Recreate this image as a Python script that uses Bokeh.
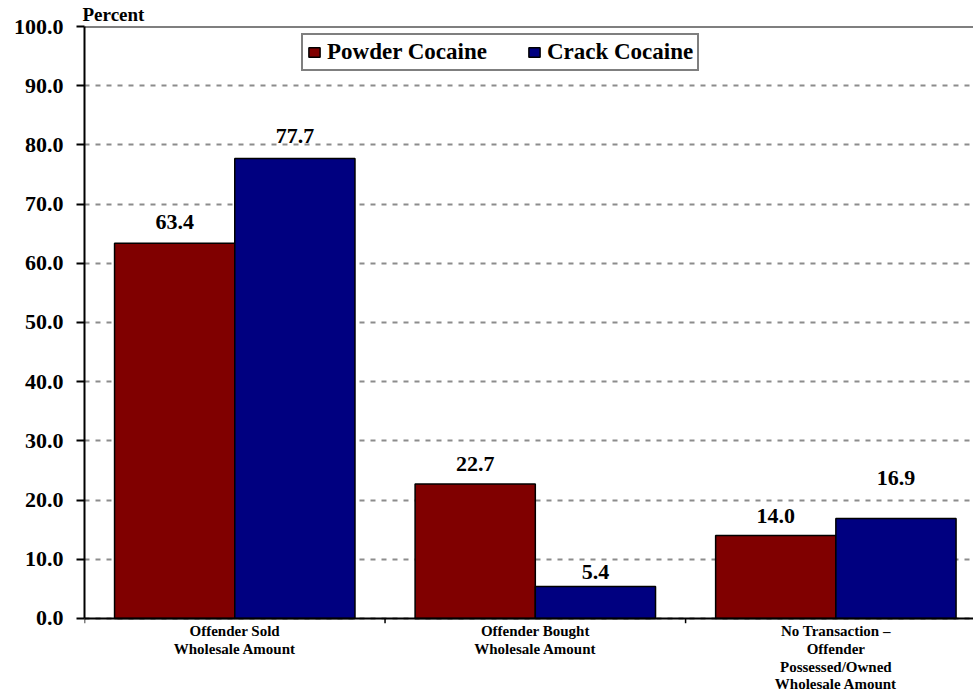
from bokeh.plotting import figure
from bokeh.models import (Range1d, FixedTicker, PrintfTickFormatter, Span,
                          Legend, LegendItem, ColumnDataSource)
from bokeh.core.properties import value
from bokeh.embed import file_html
from bokeh.resources import INLINE

# ---- data ----
categories = ["Offender Sold\nWholesale Amount",
              "Offender Bought\nWholesale Amount",
              "No Transaction \u2013\nOffender\nPossessed/Owned\nWholesale Amount"]
series_names = ["Powder Cocaine", "Crack Cocaine"]
powder = [63.4, 22.7, 14.0]
crack = [77.7, 5.4, 16.9]
y_ticks = [0, 10, 20, 30, 40, 50, 60, 70, 80, 90, 100]

# ---- styling: pixel lift of each value label above its bar ----
powder_label_lift = [21, 20, 20]
crack_label_lift = [23, 15, 40]

FONT = "Liberation Serif"
RED = "#800000"
BLUE = "#000080"

n = len(categories)
idx = list(range(n))
x_powder = [i + 0.3 for i in idx]
x_crack = [i + 0.7 for i in idx]
x_center = [i + 0.5 for i in idx]

# the frame runs to the bottom of the canvas; the space below 0 holds the category labels
p = figure(width=973, height=693, output_backend="svg", toolbar_location=None,
           x_range=Range1d(0, 2.958), y_range=Range1d(-12.67, 100),
           min_border_left=84, min_border_right=0, min_border_top=26,
           min_border_bottom=0)
p.outline_line_color = None
p.background_fill_color = "white"
p.border_fill_color = "white"

# title "Percent"
p.title.text = "Percent"
p.title.align = "left"
p.title.text_font = FONT
p.title.text_font_style = "bold"
p.title.text_font_size = "19px"
p.title.text_color = "black"
p.title.standoff = 3
p.title.offset = -2

src_p = ColumnDataSource(dict(x=x_powder, top=powder, lab=[f"{v:.1f}" for v in powder],
                              dy=[-d for d in powder_label_lift]))
src_c = ColumnDataSource(dict(x=x_crack, top=crack, lab=[f"{v:.1f}" for v in crack],
                              dy=[-d for d in crack_label_lift]))

r1 = p.vbar(x="x", top="top", width=0.4, bottom=0, source=src_p,
            fill_color=RED, line_color="black", line_width=1.5)
r2 = p.vbar(x="x", top="top", width=0.4, bottom=0, source=src_c,
            fill_color=BLUE, line_color="black", line_width=1.5)

for src in (src_p, src_c):
    p.text(x="x", y="top", text="lab", source=src, text_align="center",
           text_baseline="alphabetic", y_offset="dy",
           text_font=value(FONT), text_font_style="bold",
           text_font_size="22px", text_color="black")

# grid
p.xgrid.grid_line_color = None
p.ygrid.ticker = FixedTicker(ticks=y_ticks)
p.ygrid.grid_line_color = "#8c8c8c"
p.ygrid.grid_line_dash = "5 6"
p.ygrid.grid_line_width = 2

# top solid line and category axis line
p.add_layout(Span(location=100, dimension="width", line_color="black", line_width=2))
p.add_layout(Span(location=0, dimension="width", line_color="black", line_width=2))

# category tick marks (at group boundaries) and category labels
p.segment(x0=idx, y0=[0] * n, x1=idx, y1=[-0.8] * n, line_color="black", line_width=1.5)
p.text(x=x_center, y=[0] * n, text=categories, text_align="center", text_baseline="top",
       y_offset=5, text_font=value(FONT), text_font_style="bold",
       text_font_size="15px", text_line_height=1.1, text_color="black")

# y axis
ya = p.yaxis[0]
ya.ticker = FixedTicker(ticks=y_ticks)
ya.bounds = (0, 100)
ya.formatter = PrintfTickFormatter(format="%.1f")
ya.major_label_text_font = FONT
ya.major_label_text_font_style = "bold"
ya.major_label_text_font_size = "22px"
ya.major_label_text_color = "black"
ya.major_tick_out = 8
ya.major_tick_in = 0
ya.major_tick_line_width = 2
ya.major_tick_line_color = "black"
ya.minor_tick_line_color = None
ya.axis_line_width = 2
ya.axis_line_color = "black"
ya.major_label_standoff = 13

p.xaxis.visible = False

legend = Legend(items=[LegendItem(label=series_names[0], renderers=[r1]),
                       LegendItem(label=series_names[1], renderers=[r2])],
                orientation="horizontal", location=(217, 622))
legend.border_line_color = "black"
legend.border_line_width = 2
legend.background_fill_color = "white"
legend.background_fill_alpha = 1
legend.label_text_font = FONT
legend.label_text_font_style = "bold"
legend.label_text_font_size = "23px"
legend.label_text_color = "black"
legend.glyph_width = 14
legend.glyph_height = 12
legend.label_standoff = 6
legend.spacing = 40
legend.padding = 4
legend.margin = 0
legend.label_height = 20
p.add_layout(legend, "center")

open("out.html", "w").write(file_html(p, INLINE))
